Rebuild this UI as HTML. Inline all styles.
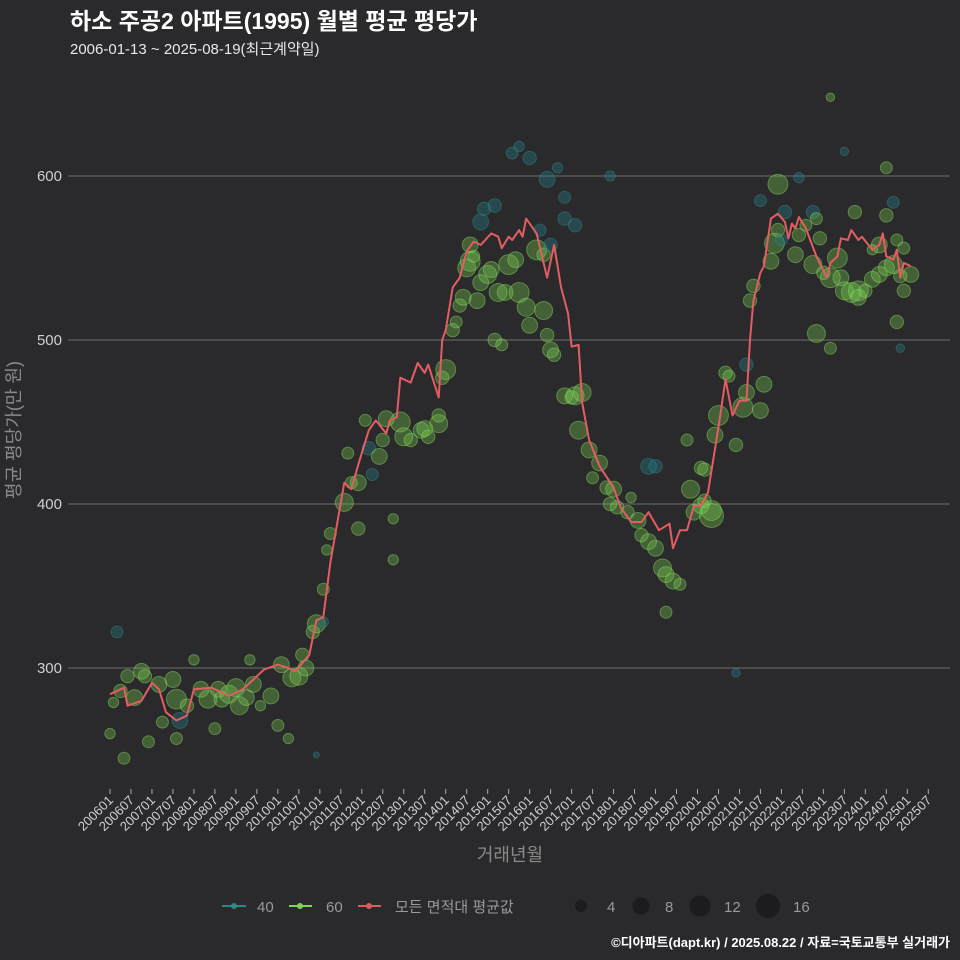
<!DOCTYPE html>
<html><head><meta charset="utf-8">
<style>
html,body{margin:0;padding:0;background:#2a292b;}
svg{display:block;font-family:"Liberation Sans","Noto Sans CJK KR",sans-serif;}
</style></head>
<body>
<svg id="chart" width="960" height="960" viewBox="0 0 960 960">
<rect x="0" y="0" width="960" height="960" fill="#2a292b"/>
<text x="70" y="29" fill="#ffffff" font-size="23" font-weight="bold">하소 주공2 아파트(1995) 월별 평균 평당가</text>
<text x="70" y="54" fill="#e8e8e8" font-size="15">2006-01-13 ~ 2025-08-19(최근계약일)</text>
<g id="grid"></g>
<g id="bubbles"></g>
<g id="line"></g>
<g id="xaxis"></g>
<text x="20" y="430" fill="#8a8a8a" font-size="18" text-anchor="middle" transform="rotate(-90 20 430)">평균 평당가(만 원)</text>
<text x="510" y="861" fill="#8a8a8a" font-size="18" text-anchor="middle">거래년월</text>
<g>
 <g>
  <line x1="222" y1="906" x2="246" y2="906" stroke="#2a8a86" stroke-width="2"/>
  <circle cx="234" cy="906" r="3" fill="#2a8a86"/>
  <text x="257" y="912" fill="#9a9a9a" font-size="15">40</text>
 </g>
 <g>
  <line x1="289" y1="906" x2="312" y2="906" stroke="#7ed35a" stroke-width="2"/>
  <circle cx="300" cy="906" r="3" fill="#7ed35a"/>
  <text x="326" y="912" fill="#9a9a9a" font-size="15">60</text>
 </g>
 <g>
  <line x1="358" y1="906" x2="381" y2="906" stroke="#e05a5e" stroke-width="2"/>
  <circle cx="369" cy="906" r="3" fill="#e05a5e"/>
  <text x="395" y="912" fill="#9a9a9a" font-size="15">모든 면적대 평균값</text>
 </g>
 <g>
  <circle cx="581" cy="906" r="6" fill="#1c1b1d"/><text x="607" y="912" fill="#9a9a9a" font-size="15">4</text>
  <circle cx="641" cy="906" r="8.5" fill="#1c1b1d"/><text x="665" y="912" fill="#9a9a9a" font-size="15">8</text>
  <circle cx="700" cy="906" r="10.5" fill="#1c1b1d"/><text x="724" y="912" fill="#9a9a9a" font-size="15">12</text>
  <circle cx="768" cy="906" r="12" fill="#1c1b1d"/><text x="793" y="912" fill="#9a9a9a" font-size="15">16</text>
 </g>
</g>
<text x="950" y="947" fill="#ffffff" font-size="13" font-weight="bold" text-anchor="end">©디아파트(dapt.kr) / 2025.08.22 / 자료=국토교통부 실거래가</text>
</svg>
<script>
// months since 2006-01
const lineMonths=[0,4,5,9,12,14,16,19,22,24,29,34,38,44,48,51,53,57,59,61,63,66,67,69,71,74,76,79,80,82,83,86,88,90,91,94,95,96,98,100,102,104,106,109,111,112,114,115,117,118,119,122,125,127,129,131,132,134,135,137,140,144,146,149,152,154,157,160,161,163,165,167,169,171,174,176,178,180,182,183,184,186,187,189,191,193,194,195,196,197,199,202,205,206,208,209,211,212,214,215,218,220,221,222,224,225,226,227,229];
const lineValues=[284,288,277,280,291,287,273,268,271,287,288,283,287,299,302,300,298,308,329,331,364,401,413,409,424,445,451,443,451,453,477,474,486,480,485,465,500,506,532,538,554,560,558,565,563,556,563,561,567,563,574,565,538,558,532,516,496,497,462,439,423,410,398,389,389,395,384,388,373,384,384,399,399,407,447,476,454,463,463,500,524,541,545,574,577,572,562,571,568,575,568,551,538,547,551,562,561,567,561,563,555,558,565,551,549,555,538,547,545];
const bubbleMonths=[0,2,1,3,4,5,9,10,7,11,14,15,18,19,19,20,22,24,26,28,30,31,32,34,36,37,39,40,41,43,46,48,49,51,52,54,55,56,58,59,59,61,
61,62,63,67,68,71,69,71,73,74,75,77,78,79,81,81,83,84,86,89,90,91,94,94,95,96,98,99,100,101,102,103,105,106,108,109,110,112,106,107,103,104,110,111,113,114,116,117,119,120,122,123,124,126,124,125,126,127,117,115,120,125,130,130,133,143,128,
130,132,133,135,134,137,138,140,142,143,144,145,148,149,151,152,154,156,158,159,161,163,159,154,156,166,167,169,170,172,172,165,169,170,173,174,176,177,179,181,182,182,183,184,186,187,189,190,191,192,193,191,196,197,199,201,202,203,201,204,206,208,209,202,206,210,212,214,214,216,218,220,222,224,226,227,225,220,222,225,227,229,213,218,224,222,197,186,206,210,226,179,163];
const bubbleValues=[260,322,279,286,245,295,298,295,282,255,290,267,293,281,257,268,277,305,287,281,263,287,281,284,288,277,282,305,290,277,283,265,302,257,294,295,308,300,322,327,247,328,
348,372,382,401,431,385,413,413,451,434,418,429,439,452,391,366,450,441,439,445,446,441,449,454,477,482,506,511,521,526,544,548,524,535,540,543,500,497,572,580,558,551,582,529,529,546,549,529,520,509,555,567,552,558,518,503,494,491,618,614,611,598,574,587,570,600,605,
466,465,466,468,445,433,416,425,410,400,409,398,395,404,390,381,377,373,361,357,353,351,334,423,423,409,395,399,402,393,396,439,422,421,442,454,480,478,436,459,468,485,524,533,457,473,548,559,567,561,578,595,552,564,570,578,574,562,546,541,538,550,538,504,495,530,529,530,526,530,537,540,544,546,539,530,511,558,576,561,556,540,578,555,584,605,599,585,648,615,495,297,331];
const bubbleSizes=[3,4,3,5,4,5,7,5,7,4,7,4,7,11,4,7,5,3,7,9,4,7,7,9,9,9,7,3,7,3,7,4,7,3,9,9,5,7,5,9,1,3,
4,3,4,9,4,5,4,7,4,5,4,7,5,7,3,3,11,9,5,7,7,5,9,5,5,11,5,4,5,7,9,11,7,7,9,7,5,4,7,5,7,4,5,9,7,11,7,11,9,7,11,4,5,5,9,5,7,5,3,4,5,7,5,4,5,3,3,
7,5,9,9,9,7,4,7,5,5,7,5,5,3,7,5,7,7,9,7,7,4,4,7,5,9,7,7,5,16,11,4,5,5,7,11,5,4,5,11,7,5,5,5,7,7,7,11,5,4,5,11,7,5,4,5,4,5,9,5,11,11,7,9,4,9,11,11,7,5,7,7,7,9,5,5,5,7,5,4,4,7,5,3,4,4,3,4,2,2,2,2];
const bubbleTypes=[60,40,60,60,60,60,60,60,60,60,60,60,60,60,60,40,60,60,60,60,60,60,60,60,60,60,60,60,60,60,60,60,60,60,60,60,60,60,60,60,40,40,
60,60,60,60,60,60,60,60,60,40,40,60,60,60,60,60,60,60,60,60,60,60,60,60,60,60,60,60,60,60,60,60,60,60,60,60,60,60,40,40,60,60,40,60,60,60,60,60,60,60,60,40,60,40,60,60,60,60,40,40,40,40,40,40,40,40,40,
60,60,60,60,60,60,60,60,60,60,60,60,60,60,60,60,60,60,60,60,60,60,60,40,40,60,60,60,60,60,60,60,60,60,60,60,60,60,60,60,60,40,60,60,60,60,60,60,60,40,40,60,60,60,60,40,60,60,60,60,60,60,60,60,60,60,60,60,60,60,60,60,60,60,60,60,60,60,60,60,60,60,60,60,40,60,40,40,60,40,40,40,40,40,40];
const yTicks=[300,400,500,600];
const xTickLabels=[];
for(let y=2006;y<=2025;y++){xTickLabels.push(y+"01");xTickLabels.push(y+"07");}

const NS="http://www.w3.org/2000/svg";
const xScale=m=>110+m*3.497;
const yScale=v=>176+(600-v)*1.64;
function mk(tag,attrs,parent){const e=document.createElementNS(NS,tag);for(const k in attrs)e.setAttribute(k,attrs[k]);parent.appendChild(e);return e;}

const grid=document.getElementById('grid');
yTicks.forEach(t=>{
  const l=mk('line',{x1:68,x2:950,y1:yScale(t),y2:yScale(t),stroke:'#6e6e6e','stroke-width':1},grid);
  
  
  const tx=mk('text',{x:62,y:yScale(t)+5,fill:'#cfcfcf','font-size':15,'text-anchor':'end'},grid);
  tx.textContent=t;
  
  
});

const xa=document.getElementById('xaxis');
xTickLabels.forEach((lab,i)=>{
  const x=xScale(i*6);
  const tk=mk('line',{x1:x,x2:x,y1:789,y2:794,stroke:'#aaaaaa','stroke-width':1},xa);
  
  
  const tx=mk('text',{x:x+4,y:801,fill:'#d0d0d0','font-size':13,'text-anchor':'end',transform:`rotate(-45 ${x+4} 801)`},xa);
  tx.textContent=lab;
  
  
});

const bg=document.getElementById('bubbles');
bubbleMonths.forEach((m,i)=>{
  const is40=bubbleTypes[i]===40;
  const c=mk('circle',{cx:xScale(m),cy:yScale(bubbleValues[i]),r:3*Math.sqrt(bubbleSizes[i]),
    fill:is40?'rgba(35,120,130,0.4)':'rgba(122,209,81,0.33)',
    stroke:is40?'rgba(50,135,140,0.45)':'rgba(140,220,100,0.45)','stroke-width':1},bg);
  
  
});

const lg=document.getElementById('line');
const pts=lineMonths.map((m,i)=>xScale(m).toFixed(1)+','+yScale(lineValues[i]).toFixed(1)).join(' ');
const pl=mk('polyline',{points:pts,fill:'none',stroke:'#e35d62','stroke-width':2,'stroke-linejoin':'round'},lg);


</script>
</body></html>
